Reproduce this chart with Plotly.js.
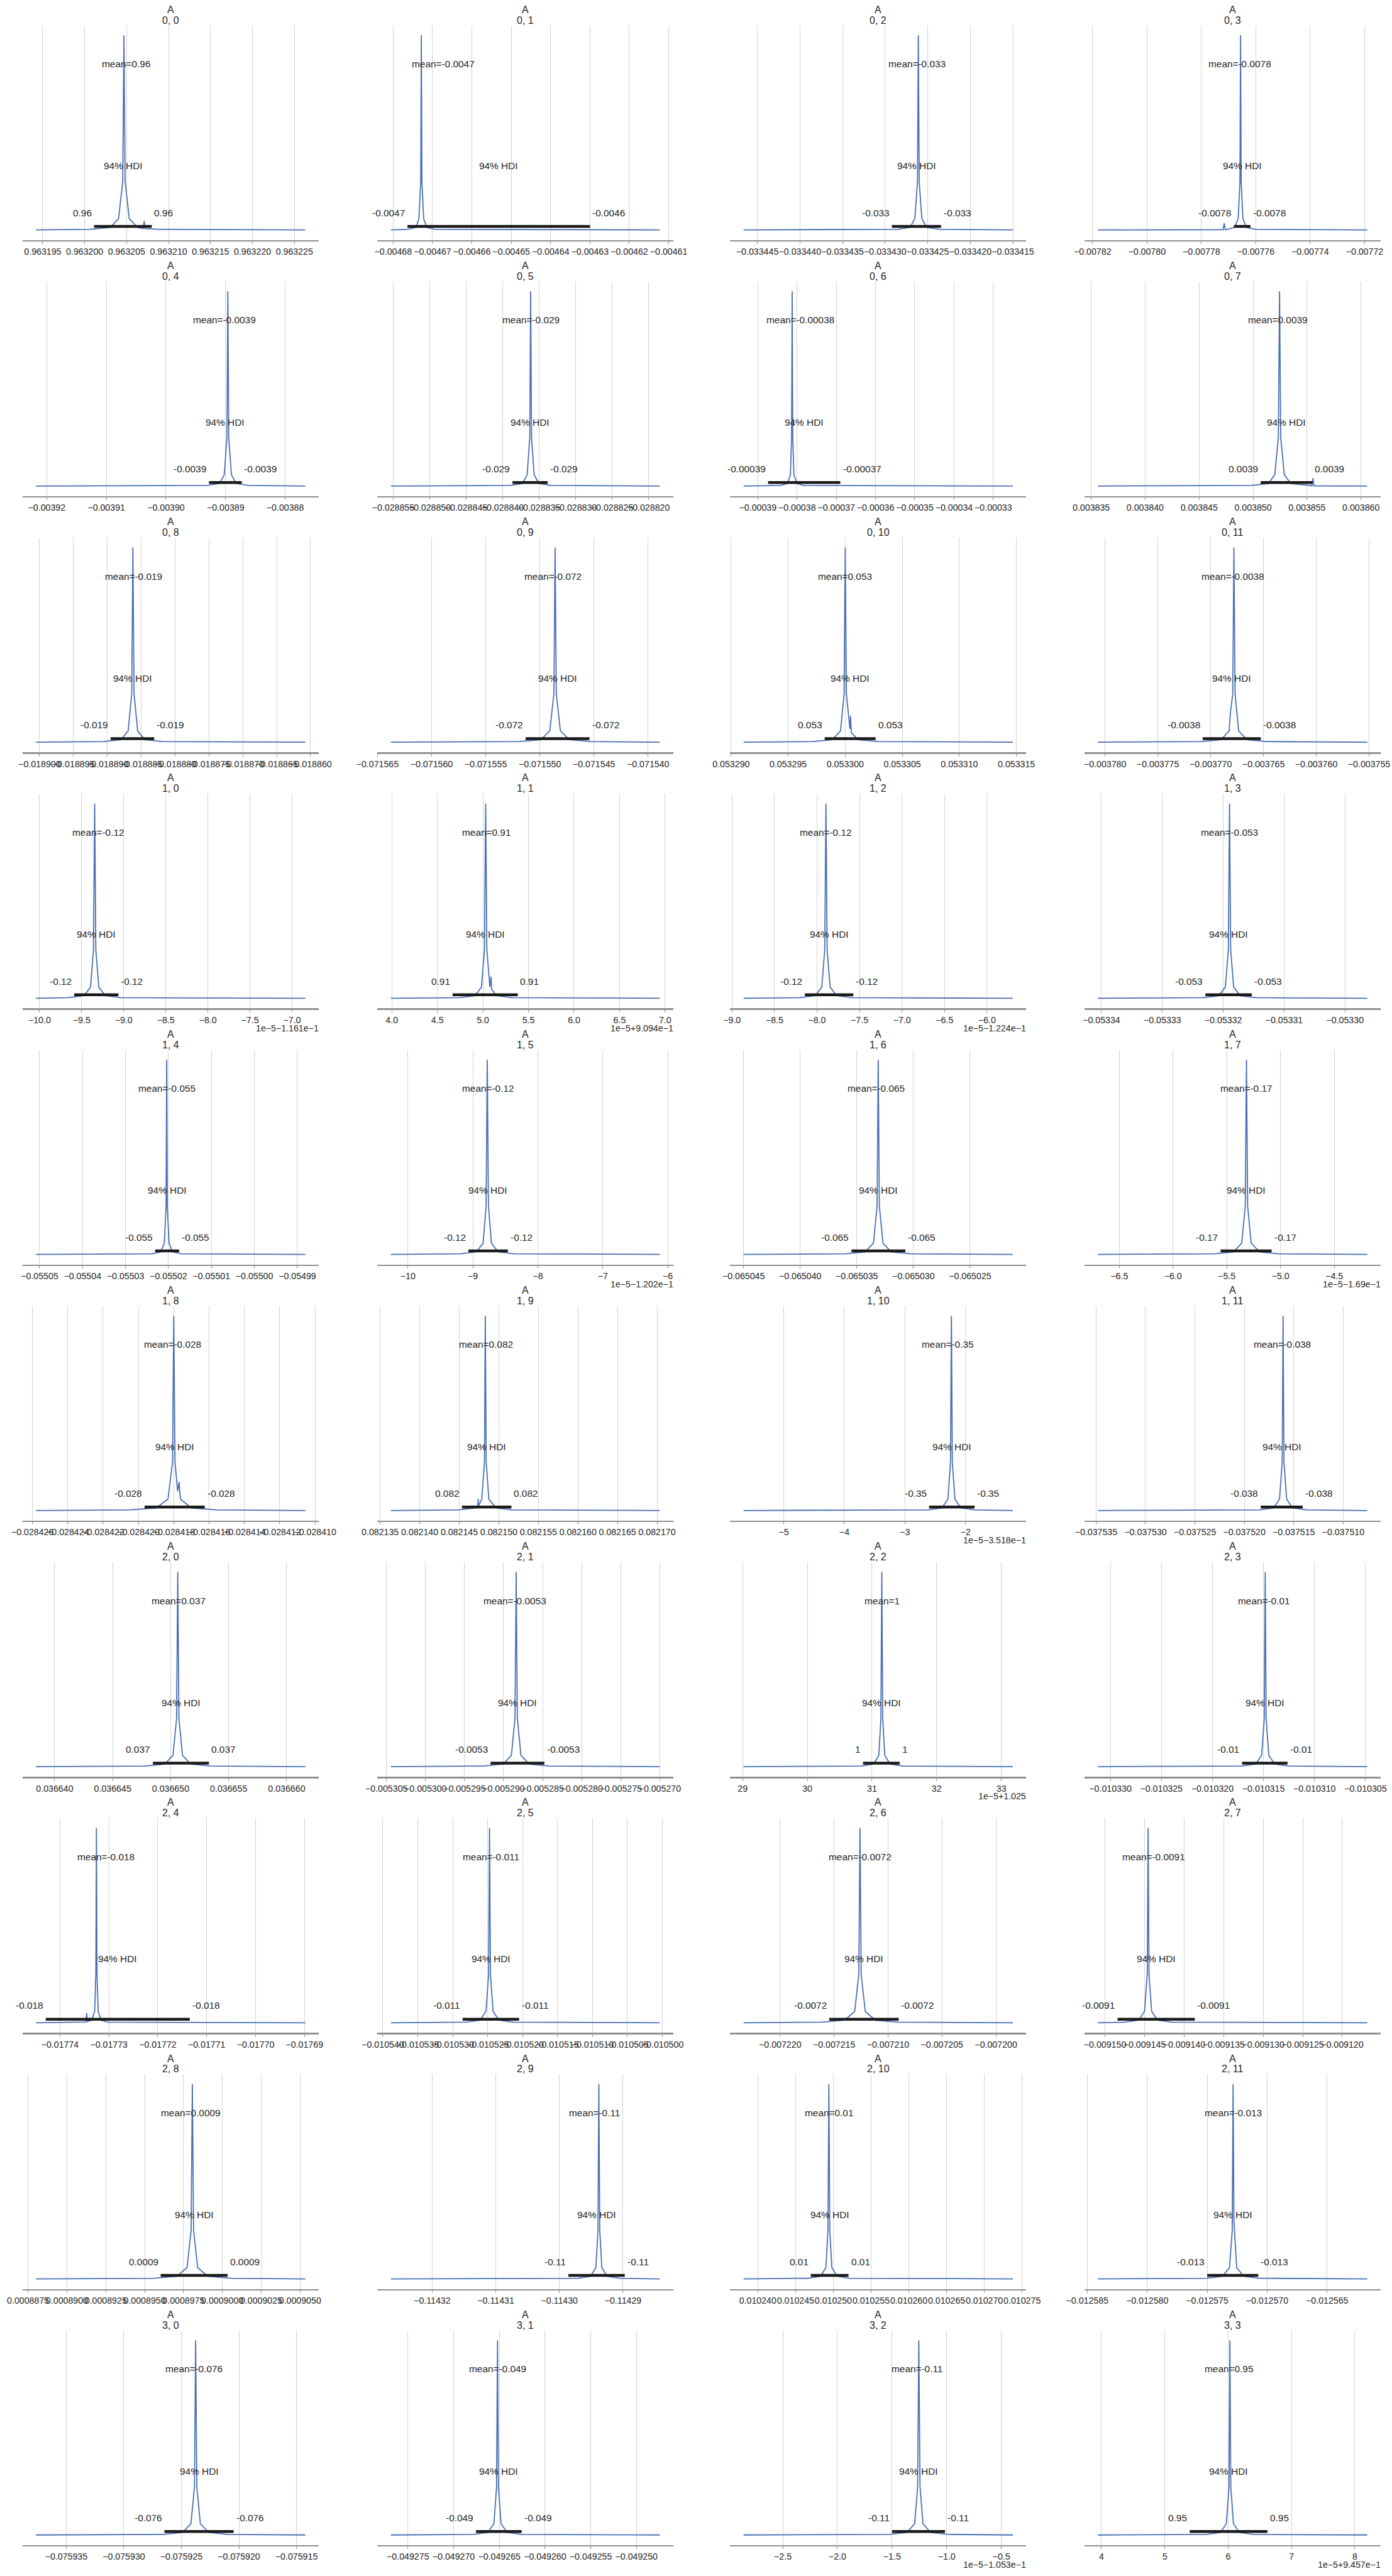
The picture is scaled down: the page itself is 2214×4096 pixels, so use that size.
<!DOCTYPE html>
<html>
<head>
<meta charset="utf-8">
<script src="https://cdn.plot.ly/plotly-3.0.1.min.js"></script>
<style>html,body{margin:0;padding:0;background:#fff;}#chart{width:2214px;height:4096px;}</style>
</head>
<body>
<div id="chart"></div>
<script>
// ---------------- DATA ----------------
const panelLabels = ["0, 0","0, 1","0, 2","0, 3","0, 4","0, 5","0, 6","0, 7","0, 8","0, 9","0, 10","0, 11",
  "1, 0","1, 1","1, 2","1, 3","1, 4","1, 5","1, 6","1, 7","1, 8","1, 9","1, 10","1, 11",
  "2, 0","2, 1","2, 2","2, 3","2, 4","2, 5","2, 6","2, 7","2, 8","2, 9","2, 10","2, 11",
  "3, 0","3, 1","3, 2","3, 3"];
const varName = "A";

const STD_Y = [0.002,0.005,0.015,0.06,0.25,1,0.25,0.06,0.015,0.005,0.002];

const kdeX = [
  [0.96319420,0.96320063,0.96320306,0.96320404,0.96320454,0.96320468,0.96320482,0.96320532,0.96320630,0.96320700,0.96320709,0.96320718,0.96320873,0.96322630],
  [-0.00468057,-0.00467625,-0.00467420,-0.00467345,-0.00467300,-0.00467285,-0.00467270,-0.00467225,-0.00467150,-0.00466945,-0.00461227],
  [-0.03344662,-0.03342850,-0.03342707,-0.03342651,-0.03342620,-0.03342610,-0.03342600,-0.03342569,-0.03342513,-0.03342370,-0.03341500],
  [-0.00781803,-0.00777200,-0.00777161,-0.00777120,-0.00777050,-0.00776776,-0.00776646,-0.00776581,-0.00776559,-0.00776537,-0.00776472,-0.00776342,-0.00776019,-0.00771901],
  [-0.00392180,-0.00389312,-0.00389101,-0.00389022,-0.00388977,-0.00388962,-0.00388947,-0.00388902,-0.00388823,-0.00388612,-0.00387662],
  [-0.02885531,-0.02883896,-0.02883729,-0.02883664,-0.02883628,-0.02883616,-0.02883604,-0.02883568,-0.02883503,-0.02883336,-0.02881847],
  [-0.00039364,-0.00038425,-0.00038245,-0.00038170,-0.00038140,-0.00038125,-0.00038110,-0.00038080,-0.00038005,-0.00037825,-0.00032500],
  [0.00383562,0.00384985,0.00385141,0.00385201,0.00385234,0.00385245,0.00385256,0.00385289,0.00385349,0.00385505,0.00385546,0.00385555,0.00385564,0.00386058],
  [-0.01890052,-0.01889052,-0.01888796,-0.01888692,-0.01888639,-0.01888622,-0.01888605,-0.01888552,-0.01888448,-0.01888192,-0.01886077],
  [-0.07156376,-0.07155189,-0.07154991,-0.07154908,-0.07154870,-0.07154859,-0.07154848,-0.07154810,-0.07154727,-0.07154529,-0.07153892],
  [0.05329109,0.05329715,0.05329886,0.05329959,0.05329990,0.05330000,0.05330010,0.05330041,0.05330047,0.05330053,0.05330114,0.05330285,0.05331469],
  [-0.00378068,-0.00377090,-0.00376903,-0.00376825,-0.00376814,-0.00376791,-0.00376780,-0.00376769,-0.00376735,-0.00376657,-0.00376470,-0.00375517],
  [-10.042,-9.660,-9.471,-9.394,-9.359,-9.345,-9.331,-9.296,-9.219,-9.030,-6.842],
  [3.990,4.740,4.913,4.984,5.017,5.030,5.043,5.076,5.089,5.095,5.147,5.320,6.941],
  [-8.864,-8.205,-8.020,-7.944,-7.909,-7.895,-7.881,-7.846,-7.770,-7.585,-5.696],
  [-0.05334059,-0.05332337,-0.05332072,-0.05331965,-0.05331916,-0.05331897,-0.05331878,-0.05331829,-0.05331722,-0.05331457,-0.05329634],
  [-0.05505083,-0.05502381,-0.05502178,-0.05502096,-0.05502055,-0.05502041,-0.05502027,-0.05501986,-0.05501904,-0.05501701,-0.05498814],
  [-10.262,-9.189,-8.944,-8.843,-8.797,-8.779,-8.761,-8.715,-8.614,-8.369,-6.124],
  [-0.06504500,-0.06503601,-0.06503426,-0.06503353,-0.06503321,-0.06503311,-0.06503301,-0.06503269,-0.06503196,-0.06503021,-0.06502122],
  [-6.699,-5.617,-5.438,-5.361,-5.328,-5.317,-5.306,-5.273,-5.196,-5.017,-4.193],
  [-0.02842580,-0.02842050,-0.02841900,-0.02841833,-0.02841807,-0.02841800,-0.02841793,-0.02841778,-0.02841770,-0.02841762,-0.02841700,-0.02841550,-0.02841055],
  [0.08213636,0.08214489,0.08214694,0.08214735,0.08214739,0.08214743,0.08214784,0.08214818,0.08214829,0.08214840,0.08214874,0.08214964,0.08215169,0.08217034],
  [-5.662,-2.625,-2.391,-2.293,-2.250,-2.235,-2.220,-2.177,-2.079,-1.845,-1.221],
  [-0.03753482,-0.03751848,-0.03751704,-0.03751644,-0.03751617,-0.03751608,-0.03751599,-0.03751572,-0.03751512,-0.03751368,-0.03750756],
  [0.03663839,0.03664781,0.03664949,0.03665020,0.03665051,0.03665061,0.03665071,0.03665102,0.03665173,0.03665341,0.03666161],
  [-0.00530443,-0.00529259,-0.00529006,-0.00528900,-0.00528854,-0.00528839,-0.00528824,-0.00528778,-0.00528672,-0.00528419,-0.00527000],
  [29.014,30.832,31.024,31.106,31.138,31.152,31.166,31.198,31.280,31.472,33.179],
  [-0.01033122,-0.01031713,-0.01031576,-0.01031518,-0.01031492,-0.01031483,-0.01031474,-0.01031448,-0.01031390,-0.01031253,-0.01030483],
  [-0.01774491,-0.01773495,-0.01773470,-0.01773455,-0.01773440,-0.01773351,-0.01773291,-0.01773267,-0.01773255,-0.01773243,-0.01773219,-0.01773159,-0.01773015,-0.01768982],
  [-0.01053885,-0.01052814,-0.01052610,-0.01052525,-0.01052487,-0.01052474,-0.01052461,-0.01052423,-0.01052338,-0.01052134,-0.01050038],
  [-0.00722339,-0.00721615,-0.00721402,-0.00721309,-0.00721271,-0.00721260,-0.00721249,-0.00721211,-0.00721118,-0.00720905,-0.00719843],
  [-0.00915090,-0.00914755,-0.00914575,-0.00914500,-0.00914466,-0.00914455,-0.00914444,-0.00914410,-0.00914335,-0.00914155,-0.00911684],
  [0.00088801,0.00089557,0.00089708,0.00089773,0.00089799,0.00089807,0.00089815,0.00089841,0.00089906,0.00090057,0.00090534],
  [-0.11432648,-0.11429710,-0.11429511,-0.11429427,-0.11429394,-0.11429380,-0.11429366,-0.11429333,-0.11429249,-0.11429050,-0.11428423],
  [0.01023811,0.01024666,0.01024831,0.01024902,0.01024929,0.01024941,0.01024953,0.01024980,0.01025051,0.01025216,0.01027378],
  [-0.01258411,-0.01257504,-0.01257373,-0.01257314,-0.01257291,-0.01257284,-0.01257277,-0.01257266,-0.01257254,-0.01257195,-0.01257064,-0.01256165],
  [-0.07593763,-0.07592656,-0.07592489,-0.07592417,-0.07592386,-0.07592376,-0.07592366,-0.07592335,-0.07592263,-0.07592096,-0.07591423],
  [-0.04927686,-0.04926780,-0.04926624,-0.04926559,-0.04926530,-0.04926520,-0.04926510,-0.04926481,-0.04926416,-0.04926260,-0.04924745],
  [-2.859,-1.525,-1.363,-1.293,-1.266,-1.255,-1.244,-1.217,-1.147,-0.985,-0.394],
  [3.944,5.658,5.879,5.972,6.014,6.028,6.042,6.084,6.177,6.398,8.197]
];

const kdeY = [
  [0.002,0.005,0.015,0.06,0.25,1,0.25,0.06,0.015,0.010,0.048,0.009,0.005,0.002],
  STD_Y, STD_Y,
  [0.002,0.003,0.036,0.003,0.005,0.015,0.06,0.25,1,0.25,0.06,0.015,0.005,0.002],
  STD_Y, STD_Y, STD_Y,
  [0.002,0.005,0.015,0.06,0.25,1,0.25,0.06,0.015,0.005,0.004,0.042,0.003,0.002],
  STD_Y, STD_Y,
  [0.002,0.005,0.015,0.06,0.25,1,0.25,0.07,0.136,0.05,0.015,0.005,0.002],
  [0.002,0.005,0.015,0.06,0.15,0.25,1,0.25,0.06,0.015,0.005,0.002],
  STD_Y,
  [0.002,0.005,0.015,0.06,0.25,1,0.25,0.06,0.113,0.05,0.015,0.005,0.002],
  STD_Y, STD_Y, STD_Y, STD_Y, STD_Y, STD_Y,
  [0.002,0.005,0.015,0.06,0.25,1,0.25,0.10,0.148,0.06,0.015,0.005,0.002],
  [0.002,0.005,0.015,0.02,0.062,0.025,0.06,0.25,1,0.25,0.06,0.015,0.005,0.002],
  STD_Y, STD_Y, STD_Y, STD_Y, STD_Y, STD_Y,
  [0.002,0.005,0.006,0.053,0.008,0.015,0.06,0.25,1,0.25,0.06,0.015,0.005,0.002],
  STD_Y, STD_Y, STD_Y, STD_Y, STD_Y, STD_Y,
  [0.002,0.005,0.015,0.06,0.25,1,0.3,0.2,0.06,0.015,0.005,0.002],
  STD_Y, STD_Y, STD_Y, STD_Y
];

const hdiLow = [0.96320112,-0.00467637,-0.03342921,-0.00776806,-0.00389278,-0.02883865,-0.00038739,0.00385070,-0.01888950,-0.07155132,0.05329820,-0.00377076,
  -9.588,4.667,-8.143,-0.05332293,-0.05502310,-9.069,-0.06503547,-5.558,-0.02841965,0.08214534,-2.603,-0.03751834,
  0.03664847,-0.00529167,30.862,-0.01031710,-0.01774291,-0.01052859,-0.00721545,-0.00914842,0.00089603,-0.11429859,0.01024701,-0.01257500,
  -0.07592647,-0.04926755,-1.500,5.394];
const hdiHigh = [0.96320800,-0.00463000,-0.03342343,-0.00776197,-0.00388729,-0.02883384,-0.00036898,0.00385550,-0.01888308,-0.07154541,0.05330266,-0.00376525,
  -9.063,5.382,-7.573,-0.05331531,-0.05501752,-8.462,-0.06503071,-5.083,-0.02841625,0.08215159,-1.853,-0.03751410,
  0.03665330,-0.00528477,31.428,-0.01031264,-0.01771345,-0.01052051,-0.00720901,-0.00913865,0.00090034,-0.11428972,0.01025201,-0.01257074,
  -0.07592046,-0.04926255,-1.016,6.620];
const meanVals = [0.96320490,-0.00466729,-0.03342626,-0.00776576,-0.00389015,-0.02883616,-0.00037920,0.00385228,-0.01888609,-0.07154876,0.05330000,-0.00376788,
  -9.303,5.039,-7.895,-0.05331897,-0.05502041,-8.766,-0.06503327,-5.317,-0.02841805,0.08214840,-2.294,-0.03751617,
  0.03665069,-0.00528851,31.152,-0.01031492,-0.01773055,-0.01052449,-0.00721260,-0.00914387,0.00089796,-0.11429451,0.01024941,-0.01257284,
  -0.07592392,-0.04926520,-1.271,6.014];
const meanText = ["0.96","-0.0047","-0.033","-0.0078","-0.0039","-0.029","-0.00038","0.0039","-0.019","-0.072","0.053","-0.0038",
  "-0.12","0.91","-0.12","-0.053","-0.055","-0.12","-0.065","-0.17","-0.028","0.082","-0.35","-0.038",
  "0.037","-0.0053","1","-0.01","-0.018","-0.011","-0.0072","-0.0091","0.0009","-0.11","0.01","-0.013",
  "-0.076","-0.049","-0.11","0.95"];
const hdiLowText = ["0.96","-0.0047","-0.033","-0.0078","-0.0039","-0.029","-0.00039","0.0039","-0.019","-0.072","0.053","-0.0038",
  "-0.12","0.91","-0.12","-0.053","-0.055","-0.12","-0.065","-0.17","-0.028","0.082","-0.35","-0.038",
  "0.037","-0.0053","1","-0.01","-0.018","-0.011","-0.0072","-0.0091","0.0009","-0.11","0.01","-0.013",
  "-0.076","-0.049","-0.11","0.95"];
const hdiHighText = ["0.96","-0.0046","-0.033","-0.0078","-0.0039","-0.029","-0.00037","0.0039","-0.019","-0.072","0.053","-0.0038",
  "-0.12","0.91","-0.12","-0.053","-0.055","-0.12","-0.065","-0.17","-0.028","0.082","-0.35","-0.038",
  "0.037","-0.0053","1","-0.01","-0.018","-0.011","-0.0072","-0.0091","0.0009","-0.11","0.01","-0.013",
  "-0.076","-0.049","-0.11","0.95"];
const hdiText = "94% HDI";

const tickLabels = [
  ["0.963195","0.963200","0.963205","0.963210","0.963215","0.963220","0.963225"],
  ["−0.00468","−0.00467","−0.00466","−0.00465","−0.00464","−0.00463","−0.00462","−0.00461"],
  ["−0.033445","−0.033440","−0.033435","−0.033430","−0.033425","−0.033420","−0.033415"],
  ["−0.00782","−0.00780","−0.00778","−0.00776","−0.00774","−0.00772"],
  ["−0.00392","−0.00391","−0.00390","−0.00389","−0.00388"],
  ["−0.028855","−0.028850","−0.028845","−0.028840","−0.028835","−0.028830","−0.028825","−0.028820"],
  ["−0.00039","−0.00038","−0.00037","−0.00036","−0.00035","−0.00034","−0.00033"],
  ["0.003835","0.003840","0.003845","0.003850","0.003855","0.003860"],
  ["−0.018900","−0.018895","−0.018890","−0.018885","−0.018880","−0.018875","−0.018870","−0.018865","−0.018860"],
  ["−0.071565","−0.071560","−0.071555","−0.071550","−0.071545","−0.071540"],
  ["0.053290","0.053295","0.053300","0.053305","0.053310","0.053315"],
  ["−0.003780","−0.003775","−0.003770","−0.003765","−0.003760","−0.003755"],
  ["−10.0","−9.5","−9.0","−8.5","−8.0","−7.5","−7.0"],
  ["4.0","4.5","5.0","5.5","6.0","6.5","7.0"],
  ["−9.0","−8.5","−8.0","−7.5","−7.0","−6.5","−6.0"],
  ["−0.05334","−0.05333","−0.05332","−0.05331","−0.05330"],
  ["−0.05505","−0.05504","−0.05503","−0.05502","−0.05501","−0.05500","−0.05499"],
  ["−10","−9","−8","−7","−6"],
  ["−0.065045","−0.065040","−0.065035","−0.065030","−0.065025"],
  ["−6.5","−6.0","−5.5","−5.0","−4.5"],
  ["−0.028426","−0.028424","−0.028422","−0.028420","−0.028418","−0.028416","−0.028414","−0.028412","−0.028410"],
  ["0.082135","0.082140","0.082145","0.082150","0.082155","0.082160","0.082165","0.082170"],
  ["−5","−4","−3","−2"],
  ["−0.037535","−0.037530","−0.037525","−0.037520","−0.037515","−0.037510"],
  ["0.036640","0.036645","0.036650","0.036655","0.036660"],
  ["−0.005305","−0.005300","−0.005295","−0.005290","−0.005285","−0.005280","−0.005275","−0.005270"],
  ["29","30","31","32","33"],
  ["−0.010330","−0.010325","−0.010320","−0.010315","−0.010310","−0.010305"],
  ["−0.01774","−0.01773","−0.01772","−0.01771","−0.01770","−0.01769"],
  ["−0.010540","−0.010535","−0.010530","−0.010525","−0.010520","−0.010515","−0.010510","−0.010505","−0.010500"],
  ["−0.007220","−0.007215","−0.007210","−0.007205","−0.007200"],
  ["−0.009150","−0.009145","−0.009140","−0.009135","−0.009130","−0.009125","−0.009120"],
  ["0.0008875","0.0008900","0.0008925","0.0008950","0.0008975","0.0009000","0.0009025","0.0009050"],
  ["−0.11432","−0.11431","−0.11430","−0.11429"],
  ["0.010240","0.010245","0.010250","0.010255","0.010260","0.010265","0.010270","0.010275"],
  ["−0.012585","−0.012580","−0.012575","−0.012570","−0.012565"],
  ["−0.075935","−0.075930","−0.075925","−0.075920","−0.075915"],
  ["−0.049275","−0.049270","−0.049265","−0.049260","−0.049255","−0.049250"],
  ["−2.5","−2.0","−1.5","−1.0","−0.5"],
  ["4","5","6","7","8"]
];

const offsetText = [null,null,null,null,null,null,null,null,null,null,null,null,
  "1e−5−1.161e−1","1e−5+9.094e−1","1e−5−1.224e−1",null,null,"1e−5−1.202e−1",null,"1e−5−1.69e−1",null,null,"1e−5−3.518e−1",null,
  null,null,"1e−5+1.025",null,null,null,null,null,null,null,null,null,
  null,null,"1e−5−1.053e−1","1e−5+9.457e−1"];

// ---------------- LAYOUT / STYLE ----------------
const REF_W = 2349, REF_H = 4346;
const FIG_W = 2214, FIG_H = 4096;
const COLS_PX = [[38,538],[637,1136],[1232,1732],[1830,2330]];
const AX_TOP0 = 43, AX_BOT0 = 405, ROW_PITCH = 432.1;
const FONT = "Liberation Sans, Arial, Helvetica, sans-serif";
const KDE_COLOR = "#4a6fb3";
const TXT = "#262626";
const Y_RANGE = [-0.05, 1.05];
const HDI_BAR_Y = 0.02;
const MEAN_TXT_Y = 0.853, HDI_TXT_Y = 0.33, HDI_LBL_Y = 0.09;

const traces = [];
const layout = {
  width: FIG_W, height: FIG_H,
  margin: {l:0, r:0, t:0, b:0},
  paper_bgcolor: "#ffffff", plot_bgcolor: "#ffffff",
  showlegend: false,
  font: {family: FONT, color: TXT, size: 15.4},
  annotations: []
};

function px2paperX(px){ return px / REF_W; }
function px2paperY(py){ return 1 - py / REF_H; }

for (let i = 0; i < panelLabels.length; i++) {
  const r = Math.floor(i / 4), c = i % 4;
  const n = i + 1;
  const xs = n === 1 ? "" : String(n);
  const xa = "x" + xs, ya = "y" + xs;
  const top = AX_TOP0 + r * ROW_PITCH, bot = AX_BOT0 + r * ROW_PITCH;
  const [cx0, cx1] = COLS_PX[c];

  const xk = kdeX[i];
  const lo = xk[0], hi = xk[xk.length - 1];
  const span = hi - lo;
  const tv = tickLabels[i].map(s => parseFloat(s.replace("−", "-")));

  layout["xaxis" + xs] = {
    domain: [px2paperX(cx0), px2paperX(cx1)],
    anchor: ya,
    range: [lo - 0.05 * span, hi + 0.05 * span],
    tickmode: "array", tickvals: tv, ticktext: tickLabels[i],
    tickangle: 0,
    showgrid: true, gridcolor: "#d3d3d3", gridwidth: 1,
    zeroline: false,
    showline: true, linecolor: "#8f8f8f", linewidth: 2.4,
    ticks: "outside", ticklen: 4, tickwidth: 1, tickcolor: "#8f8f8f",
    tickfont: {family: FONT, size: 14.2, color: TXT},
    fixedrange: true
  };
  layout["yaxis" + xs] = {
    domain: [px2paperY(bot), px2paperY(top)],
    anchor: xa,
    range: Y_RANGE,
    showgrid: false, zeroline: false, showline: false,
    showticklabels: false, ticks: "",
    fixedrange: true
  };

  traces.push({
    type: "scatter", mode: "lines", x: xk, y: kdeY[i],
    xaxis: xa, yaxis: ya,
    line: {color: KDE_COLOR, width: 1.8}, hoverinfo: "skip"
  });
  traces.push({
    type: "scatter", mode: "lines", x: [hdiLow[i], hdiHigh[i]], y: [HDI_BAR_Y, HDI_BAR_Y],
    xaxis: xa, yaxis: ya,
    line: {color: "#1a1a1a", width: 4.6}, hoverinfo: "skip"
  });

  const cxMid = (cx0 + cx1) / 2;
  layout.annotations.push({xref: "paper", yref: "paper", x: px2paperX(cxMid), y: px2paperY(top - 27),
    text: varName, showarrow: false, xanchor: "center", yanchor: "middle",
    font: {family: FONT, size: 16, color: TXT}});
  layout.annotations.push({xref: "paper", yref: "paper", x: px2paperX(cxMid), y: px2paperY(top - 9),
    text: panelLabels[i], showarrow: false, xanchor: "center", yanchor: "middle",
    font: {family: FONT, size: 16, color: TXT}});
  layout.annotations.push({xref: xa, yref: ya, x: meanVals[i], y: MEAN_TXT_Y,
    text: "mean=" + meanText[i], showarrow: false, xanchor: "center", yanchor: "middle",
    font: {family: FONT, size: 15.4, color: TXT}});
  layout.annotations.push({xref: xa, yref: ya, x: (hdiLow[i] + hdiHigh[i]) / 2, y: HDI_TXT_Y,
    text: hdiText, showarrow: false, xanchor: "center", yanchor: "middle",
    font: {family: FONT, size: 15.4, color: TXT}});
  layout.annotations.push({xref: xa, yref: ya, x: hdiLow[i], y: HDI_LBL_Y,
    text: hdiLowText[i], showarrow: false, xanchor: "right", yanchor: "middle", xshift: -2,
    font: {family: FONT, size: 15.4, color: TXT}});
  layout.annotations.push({xref: xa, yref: ya, x: hdiHigh[i], y: HDI_LBL_Y,
    text: hdiHighText[i], showarrow: false, xanchor: "left", yanchor: "middle", xshift: 2,
    font: {family: FONT, size: 15.4, color: TXT}});
  if (offsetText[i]) {
    layout.annotations.push({xref: "paper", yref: "paper", x: px2paperX(cx1 + 2), y: px2paperY(bot + 33),
      text: offsetText[i], showarrow: false, xanchor: "right", yanchor: "middle",
      font: {family: FONT, size: 14.2, color: TXT}});
  }
}

Plotly.newPlot("chart", traces, layout, {staticPlot: true, displayModeBar: false});
</script>
</body>
</html>
